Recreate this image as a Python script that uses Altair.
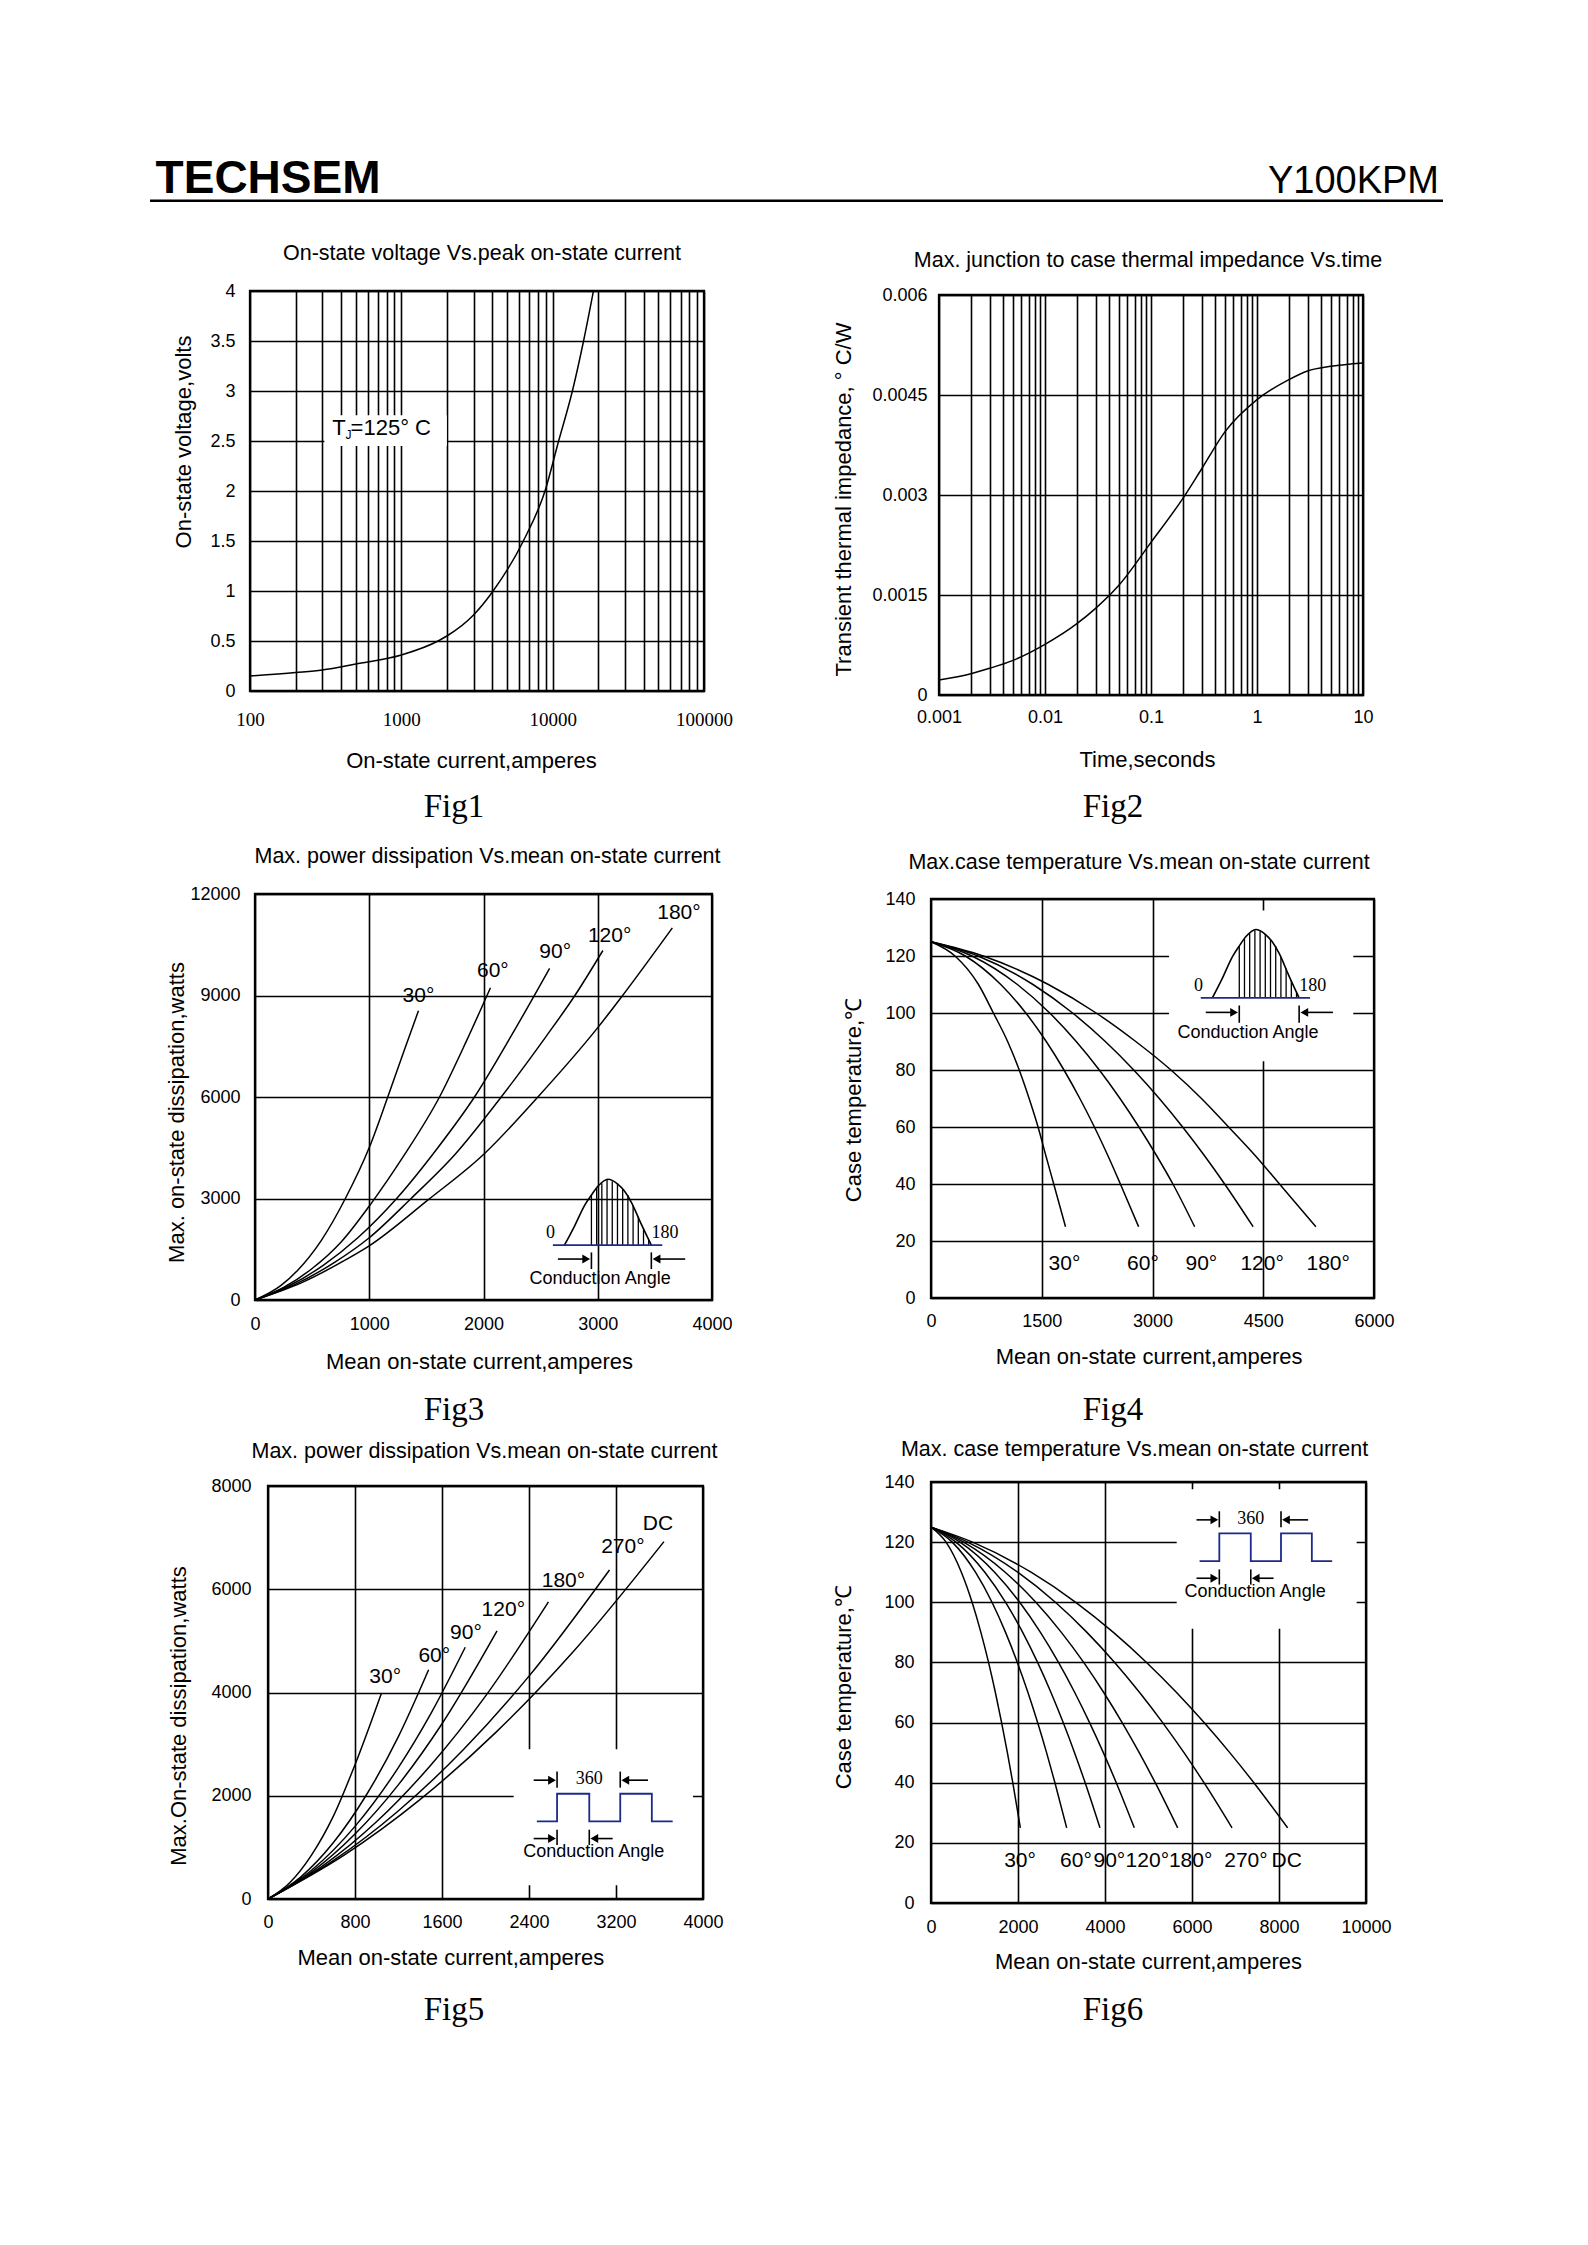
import json
import altair as alt
import pandas as pd

SANS = "Liberation Sans, Arial, Helvetica, sans-serif"
SERIF = "Liberation Serif, Times New Roman, serif"
BLUE = "#1c2a8c"

# ---------------- header
brand = "TECHSEM"
part_no = "Y100KPM"

# ---------------- Fig1: on-state voltage vs peak current
f1_title = "On-state voltage Vs.peak on-state current"
f1_xtitle = "On-state current,amperes"
f1_ytitle = "On-state voltage,volts"
f1_current = [100, 200, 300, 500, 1000, 1800, 2000, 3000, 4040, 6400, 8900, 10950, 13500, 16000, 18600]
f1_voltage = [0.15, 0.185, 0.21, 0.27, 0.36, 0.51, 0.55, 0.76, 1.0, 1.5, 2.0, 2.5, 3.0, 3.5, 4.0]
f1_xgrid = [m * 10 ** e for e in (2, 3, 4) for m in range(1, 10)] + [100000]
f1_xlabels = [100, 1000, 10000, 100000]
f1_ygrid = [0, 0.5, 1, 1.5, 2, 2.5, 3, 3.5, 4]
f1_box_x = [310, 2000]
f1_box_y = [2.45, 2.757]

# ---------------- Fig2: transient thermal impedance vs time
f2_title = "Max. junction to case thermal impedance Vs.time"
f2_xtitle = "Time,seconds"
f2_ytitle = "Transient thermal impedance, \u00b0 C/W"
f2_time = [0.001, 0.002, 0.003, 0.005, 0.01, 0.02, 0.03, 0.05, 0.1, 0.2, 0.3, 0.5, 1, 2, 3, 5, 10]
f2_z = [0.000225, 0.00032, 0.0004, 0.00052, 0.00076, 0.00107, 0.0013, 0.00165, 0.00229,
        0.00295, 0.00339, 0.00395, 0.00443, 0.00473, 0.00486, 0.00493, 0.00498]
f2_xgrid = [round(m * 10.0 ** e, 6) for e in (-3, -2, -1, 0) for m in range(1, 10)] + [10]
f2_xlabels = [0.001, 0.01, 0.1, 1, 10]
f2_ygrid = [0, 0.0015, 0.003, 0.0045, 0.006]

# ---------------- Fig3: power dissipation (sine) vs mean current
f3_title = "Max. power dissipation Vs.mean on-state current"
f3_xtitle = "Mean on-state current,amperes"
f3_ytitle = "Max. on-state dissipation,watts"
f3_current = {
    "30\u00b0": [0, 228, 374, 578, 791, 1000, 1162, 1308, 1431],
    "60\u00b0": [0, 250, 500, 750, 1016, 1300, 1615, 1850, 2061],
    "90\u00b0": [0, 300, 600, 900, 1240, 1600, 1921, 2250, 2578],
    "120\u00b0": [0, 350, 700, 1000, 1366, 1750, 2155, 2550, 2800, 3045],
    "180\u00b0": [0, 400, 800, 1000, 1512, 2000, 2476, 3000, 3206, 3653],
}
f3_power = {
    "30\u00b0": [0, 430, 880, 1750, 3000, 4505, 6000, 7400, 8550],
    "60\u00b0": [0, 370, 930, 1700, 2850, 4250, 6000, 7650, 9230],
    "90\u00b0": [0, 420, 1030, 1840, 3000, 4500, 6000, 7850, 9800],
    "120\u00b0": [0, 460, 1120, 1840, 3000, 4300, 6000, 7800, 9000, 10330],
    "180\u00b0": [0, 500, 1200, 1600, 2950, 4300, 6000, 8050, 8950, 11000],
}
f3_label_text = ["30\u00b0", "60\u00b0", "90\u00b0", "120\u00b0", "180\u00b0"]
f3_label_x = [1431, 2082, 2628, 3104, 3711]
f3_label_y = [9000, 9737, 10288, 10770, 11439]
f3_xgrid = [0, 1000, 2000, 3000, 4000]
f3_ygrid = [0, 3000, 6000, 9000, 12000]

# ---------------- Fig4: case temperature (sine) vs mean current
f4_title = "Max.case temperature Vs.mean on-state current"
f4_xtitle = "Mean on-state current,amperes"
f4_ytitle = "Case temperature,\u2103"
f4_temp = [125, 120, 110, 100, 90, 80, 70, 60, 50, 40, 25]
f4_current = {
    "30\u00b0": [0, 325, 643, 845, 1038, 1195, 1329, 1450, 1555, 1662, 1822],
    "60\u00b0": [0, 465, 945, 1284, 1561, 1801, 2016, 2213, 2395, 2565, 2812],
    "90\u00b0": [0, 555, 1170, 1608, 1967, 2280, 2560, 2816, 3054, 3276, 3571],
    "120\u00b0": [0, 637, 1381, 1918, 2361, 2746, 3092, 3408, 3702, 3977, 4363],
    "180\u00b0": [0, 708, 1590, 2237, 2773, 3250, 3663, 4030, 4390, 4720, 5213],
}
f4_label_text = ["30\u00b0", "60\u00b0", "90\u00b0", "120\u00b0", "180\u00b0"]
f4_label_x = [1808, 2871, 3662, 4485, 5380]
f4_label_y = [11.9] * 5
f4_box_x = [3223, 5719]
f4_box_y = [83.1, 136.0]
f4_xgrid = [0, 1500, 3000, 4500, 6000]
f4_ygrid = [0, 20, 40, 60, 80, 100, 120, 140]

# ---------------- Fig5: power dissipation (square) vs mean current
f5_title = "Max. power dissipation Vs.mean on-state current"
f5_xtitle = "Mean on-state current,amperes"
f5_ytitle = "Max.On-state dissipation,watts"
f5_current = {
    "30\u00b0": [0, 200, 400, 600, 800, 1044],
    "60\u00b0": [0, 300, 600, 900, 1200, 1477],
    "90\u00b0": [0, 400, 800, 1200, 1500, 1814],
    "120\u00b0": [0, 400, 800, 1200, 1600, 2106],
    "180\u00b0": [0, 500, 1000, 1500, 2000, 2579],
    "270\u00b0": [0, 600, 1200, 1800, 2400, 3140],
    "DC": [0, 700, 1400, 2100, 2800, 3641],
}
f5_power = {
    "30\u00b0": [0, 315, 850, 1600, 2600, 3990],
    "60\u00b0": [0, 425, 1090, 2000, 3150, 4440],
    "90\u00b0": [0, 557, 1407, 2550, 3600, 4877],
    "120\u00b0": [0, 520, 1258, 2216, 3394, 5194],
    "180\u00b0": [0, 635, 1500, 2600, 3930, 5755],
    "270\u00b0": [0, 742, 1710, 2900, 4317, 6374],
    "DC": [0, 850, 1930, 3237, 4775, 6923],
}
f5_label_text = ["30\u00b0", "60\u00b0", "90\u00b0", "120\u00b0", "180\u00b0", "270\u00b0", "DC"]
f5_label_x = [1078, 1529, 1820, 2164, 2717, 3263, 3586]
f5_label_y = [4297, 4710, 5148, 5600, 6168, 6813, 7265]
f5_box_x = [2259, 3908]
f5_box_y = [265, 2903]
f5_xgrid = [0, 800, 1600, 2400, 3200, 4000]
f5_ygrid = [0, 2000, 4000, 6000, 8000]

# ---------------- Fig6: case temperature (square) vs mean current
f6_title = "Max. case temperature Vs.mean on-state current"
f6_xtitle = "Mean on-state current,amperes"
f6_ytitle = "Case temperature,\u2103"
f6_temp = [125, 120, 110, 100, 90, 80, 70, 60, 50, 40, 25]
f6_current = {
    "30\u00b0": [0, 346, 698, 945, 1147, 1323, 1480, 1623, 1756, 1880, 2054],
    "60\u00b0": [0, 488, 1022, 1402, 1714, 1985, 2229, 2451, 2657, 2849, 3119],
    "90\u00b0": [0, 574, 1237, 1715, 2108, 2450, 2758, 3039, 3300, 3544, 3885],
    "120\u00b0": [0, 667, 1462, 2039, 2516, 2931, 3304, 3645, 3962, 4259, 4674],
    "180\u00b0": [0, 750, 1705, 2410, 2997, 3510, 3971, 4394, 4787, 5155, 5670],
    "270\u00b0": [0, 845, 1993, 2859, 3585, 4222, 4796, 5325, 5816, 6276, 6920],
    "DC": [0, 956, 2299, 3327, 4193, 4955, 5645, 6278, 6868, 7422, 8199],
}
f6_label_text = ["30\u00b0", "60\u00b0", "90\u00b0", "120\u00b0", "180\u00b0", "270\u00b0", "DC"]
f6_label_x = [2046, 3333, 4100, 4973, 5969, 7241, 8176]
f6_label_y = [13.9] * 7
f6_box_x = [5648, 9785]
f6_box_y = [91.2, 137.6]
f6_xgrid = [0, 2000, 4000, 6000, 8000, 10000]
f6_ygrid = [0, 20, 40, 60, 80, 100, 120, 140]

# ---------------- half-sine inset (u across one pulse, v up to the crest)
pulse_u = [0, 0.12, 0.23, 0.31, 0.39, 0.5, 0.61, 0.69, 0.77, 0.88, 1.0]
pulse_v = [0, 0.30, 0.60, 0.76, 0.90, 1.0, 0.93, 0.82, 0.65, 0.33, 0]
hatch_u = [0.31, 0.37, 0.43, 0.49, 0.55, 0.61, 0.67, 0.73, 0.79, 0.85, 0.91, 0.97]
hatch_v = [0.76, 0.86, 0.94, 0.99, 0.97, 0.93, 0.85, 0.76, 0.60, 0.43, 0.25, 0.08]
pulse_base_u = [-0.134, 1.126]
pulse_bar_u = [0.31, 1.0]
pulse_bar_v = [-0.364, -0.111]
pulse_arrow_v = -0.212
pulse_arrow_tail = [-0.076, 1.39]
pulse_arrow_tip = [0.25, 1.06]
pulse_nums = ["0", "180"]
pulse_num_u = [-0.16, 1.157]
pulse_num_v = 0.177
pulse_cap = (0.41, -0.515)

# ---------------- square-wave inset (u: one period = 1, v: pulse height = 1)
wave_u = [-0.32, 0, 0, 0.51, 0.51, 1.0, 1.0, 1.50, 1.50, 1.83]
wave_v = [0, 0, 1, 1, 0, 0, 1, 1, 0, 0]
wave_top_bar_u = [0, 1.0]
wave_top_bar_v = [1.22, 1.80]
wave_top_arrow_v = 1.49
wave_top_tail = [-0.37, 1.44]
wave_top_tip = [-0.08, 1.08]
wave_bot_bar_u = [0, 0.51]
wave_bot_bar_v = [-0.85, -0.30]
wave_bot_arrow_v = -0.62
wave_bot_tail = [-0.37, 0.88]
wave_bot_tip = [-0.08, 0.59]
wave_period_text = "360"
wave_period_uv = (0.51, 1.52)
wave_cap = (0.58, -1.1)

CAPTION = "Conduction Angle"

TITLE_SIZE = 21.5
AXIS_TITLE_SIZE = 22


# ================= helpers =================
def curves_df(xs, ys):
    rows = []
    for k in xs:
        for a, b in zip(xs[k], ys[k]):
            rows.append({"k": k, "x": a, "y": b})
    return pd.DataFrame(rows)


def make_xy(xs, ys, xa, ya):
    def X():
        return alt.X("x:Q", scale=xs, axis=xa)

    def Y():
        return alt.Y("y:Q", scale=ys, axis=ya)
    return X, Y


def x_axis(values, title, tx, ty, pad, fmt, label_values=None, font=SANS, size=18):
    kw = dict(values=values, title=title, titleX=tx, titleY=ty, labelPadding=pad,
              format=fmt, labelFont=font, labelFontSize=size, labelBaseline="middle")
    if label_values is not None:
        kw["labelExpr"] = "indexof(%s, datum.value) >= 0 ? datum.label : ''" % json.dumps(label_values)
    return alt.Axis(**kw)


def y_axis(values, title, tx, ty, pad, fmt):
    return alt.Axis(values=values, title=title, titleX=tx, titleY=ty, labelPadding=pad,
                    format=fmt, titleAngle=270, labelAlign="right")


def curve_layer(X, Y, df, width=1.5):
    return alt.Chart(df).mark_line(color="black", strokeWidth=width, interpolate="monotone").encode(
        x=X(), y=Y(), detail="k:N")


def text_layer(X, Y, xs, ys, texts, size=21, font=SANS, align="center"):
    df = pd.DataFrame({"x": xs, "y": ys, "t": texts})
    return alt.Chart(df).mark_text(font=font, fontSize=size, color="black", align=align,
                                   baseline="middle").encode(x=X(), y=Y(), text="t:N")


def white_box(X, Y, bx, by):
    df = pd.DataFrame({"x": [bx[0]], "x2": [bx[1]], "y": [by[0]], "y2": [by[1]]})
    return alt.Chart(df).mark_rect(color="white", opacity=1).encode(x=X(), x2="x2:Q", y=Y(), y2="y2:Q")


def hrules(X, Y, x1, x2, y, color="black", width=1.6):
    df = pd.DataFrame({"x": x1, "x2": x2, "y": y})
    return alt.Chart(df).mark_rule(color=color, strokeWidth=width).encode(x=X(), x2="x2:Q", y=Y())


def vrules(X, Y, x, y1, y2, color="black", width=1.6):
    df = pd.DataFrame({"x": x, "y": y1, "y2": y2})
    return alt.Chart(df).mark_rule(color=color, strokeWidth=width).encode(x=X(), y=Y(), y2="y2:Q")


def heads(X, Y, xs, ys, shape):
    df = pd.DataFrame({"x": xs, "y": ys})
    return alt.Chart(df).mark_point(shape=shape, filled=True, color="black", opacity=1, size=80).encode(
        x=X(), y=Y())


def pulse_inset(X, Y, fr):
    x0, sx, y0, sy = fr
    U = lambda u: x0 + u * sx
    V = lambda v: y0 + v * sy
    shape = pd.DataFrame({"x": [U(u) for u in pulse_u], "y": [V(v) for v in pulse_v]})
    return [
        vrules(X, Y, [U(u) for u in hatch_u], [V(0)] * len(hatch_u), [V(v) for v in hatch_v], width=1.3),
        alt.Chart(shape).mark_line(color="black", strokeWidth=1.6, interpolate="monotone").encode(x=X(), y=Y()),
        hrules(X, Y, [U(pulse_base_u[0])], [U(pulse_base_u[1])], [V(0)], color=BLUE, width=1.8),
        vrules(X, Y, [U(u) for u in pulse_bar_u], [V(pulse_bar_v[0])] * 2, [V(pulse_bar_v[1])] * 2),
        hrules(X, Y, [U(u) for u in pulse_arrow_tail], [U(u) for u in pulse_arrow_tip], [V(pulse_arrow_v)] * 2),
        heads(X, Y, [U(pulse_arrow_tip[0])], [V(pulse_arrow_v)], "triangle-right"),
        heads(X, Y, [U(pulse_arrow_tip[1])], [V(pulse_arrow_v)], "triangle-left"),
        text_layer(X, Y, [U(u) for u in pulse_num_u], [V(pulse_num_v)] * 2, pulse_nums, size=18, font=SERIF),
        text_layer(X, Y, [U(pulse_cap[0])], [V(pulse_cap[1])], [CAPTION], size=18),
    ]


def wave_inset(X, Y, fr):
    x0, sx, y0, sy = fr
    U = lambda u: x0 + u * sx
    V = lambda v: y0 + v * sy
    wave = pd.DataFrame({"x": [U(u) for u in wave_u], "y": [V(v) for v in wave_v],
                         "i": list(range(len(wave_u)))})
    return [
        alt.Chart(wave).mark_line(color=BLUE, strokeWidth=1.8).encode(x=X(), y=Y(), order="i:Q"),
        vrules(X, Y, [U(u) for u in wave_top_bar_u], [V(wave_top_bar_v[0])] * 2, [V(wave_top_bar_v[1])] * 2),
        vrules(X, Y, [U(u) for u in wave_bot_bar_u], [V(wave_bot_bar_v[0])] * 2, [V(wave_bot_bar_v[1])] * 2),
        hrules(X, Y, [U(u) for u in wave_top_tail], [U(u) for u in wave_top_tip], [V(wave_top_arrow_v)] * 2),
        hrules(X, Y, [U(u) for u in wave_bot_tail], [U(u) for u in wave_bot_tip], [V(wave_bot_arrow_v)] * 2),
        heads(X, Y, [U(wave_top_tip[0]), U(wave_bot_tip[0])], [V(wave_top_arrow_v), V(wave_bot_arrow_v)],
              "triangle-right"),
        heads(X, Y, [U(wave_top_tip[1]), U(wave_bot_tip[1])], [V(wave_top_arrow_v), V(wave_bot_arrow_v)],
              "triangle-left"),
        text_layer(X, Y, [U(wave_period_uv[0])], [V(wave_period_uv[1])], [wave_period_text], size=18, font=SERIF),
        text_layer(X, Y, [U(wave_cap[0])], [V(wave_cap[1])], [CAPTION], size=18),
    ]


def panel(layers, w, h, title, offset, dx, cap, cap_x, cap_y):
    cap_layer = alt.Chart(pd.DataFrame({"t": [cap]})).mark_text(
        font=SERIF, fontSize=33, align="center", baseline="middle", color="black").encode(
        text="t:N", x=alt.value(cap_x), y=alt.value(cap_y))
    return alt.layer(*layers, cap_layer).properties(
        width=w, height=h,
        title=alt.TitleParams(title, offset=offset, dx=dx, frame="group", anchor="middle",
                              baseline="middle", fontSize=TITLE_SIZE, fontWeight="normal", font=SANS,
                              color="black"),
        view=alt.ViewBackground(stroke="black", strokeWidth=2.3),
    )


def spacer(w=1, h=1):
    return alt.Chart(pd.DataFrame({"a": [0]})).mark_point(opacity=0).properties(width=w, height=h)


TITLE_SHIFT = 29  # measured shift of the title anchor in this renderer

# ================= Fig1 =================
X, Y = make_xy(alt.Scale(type="log", domain=[100, 100000], nice=False),
               alt.Scale(domain=[0, 4], nice=False, zero=False),
               x_axis(f1_xgrid, f1_xtitle, 221, 69, 28, "~g", f1_xlabels, font=SERIF, size=19),
               y_axis(f1_ygrid, f1_ytitle, -66.6, 150.5, 15, "~g"))
fig1 = panel([
    white_box(X, Y, f1_box_x, f1_box_y),
    alt.Chart(pd.DataFrame({"x": f1_current, "y": f1_voltage})).mark_line(
        color="black", strokeWidth=1.5, interpolate="monotone").encode(x=X(), y=Y()),
    text_layer(X, Y, [350], [2.633], ["T"], size=22, align="left"),
    text_layer(X, Y, [428], [2.56], ["J"], size=12, align="left"),
    text_layer(X, Y, [462], [2.633], ["=125\u00b0   C"], size=22, align="left"),
], 454, 400, f1_title, 36 - TITLE_SHIFT, 5, "Fig1", 204, 516)

# ================= Fig2 =================
X, Y = make_xy(alt.Scale(type="log", domain=[0.001, 10], nice=False),
               alt.Scale(domain=[0, 0.006], nice=False, zero=False),
               x_axis(f2_xgrid, f2_xtitle, 208, 64, 22, "~g", f2_xlabels),
               y_axis(f2_ygrid, f2_ytitle, -96, 204, 12, ".2~g"))
fig2 = panel([
    alt.Chart(pd.DataFrame({"x": f2_time, "y": f2_z})).mark_line(
        color="black", strokeWidth=1.5, interpolate="monotone").encode(x=X(), y=Y()),
], 424, 400, f2_title, 33 - TITLE_SHIFT, -3, "Fig2", 174, 512)

# ================= Fig3 =================
X, Y = make_xy(alt.Scale(domain=[0, 4000], nice=False, zero=False),
               alt.Scale(domain=[0, 12000], nice=False, zero=False),
               x_axis(f3_xgrid, f3_xtitle, 224, 61, 24, "d"),
               y_axis(f3_ygrid, f3_ytitle, -78.7, 218, 15, "d"))
fig3 = panel([
    curve_layer(X, Y, curves_df(f3_current, f3_power)),
    text_layer(X, Y, f3_label_x, f3_label_y, f3_label_text),
] + pulse_inset(X, Y, (2709, 760, 1623, 1947)), 457, 406, f3_title, 36 - TITLE_SHIFT, 4, "Fig3", 199, 516)

# ================= Fig4 =================
X, Y = make_xy(alt.Scale(domain=[0, 6000], nice=False, zero=False),
               alt.Scale(domain=[0, 140], nice=False, zero=False),
               x_axis(f4_xgrid, f4_xtitle, 217.6, 58, 23, "d"),
               y_axis(f4_ygrid, f4_ytitle, -78, 200.6, 16, "d"))
fig4 = panel([
    white_box(X, Y, f4_box_x, f4_box_y),
    curve_layer(X, Y, curves_df(f4_current, {k: f4_temp for k in f4_current})),
    text_layer(X, Y, f4_label_x, f4_label_y, f4_label_text),
] + pulse_inset(X, Y, (3811, 1175, 105.3, 24.0)), 443, 399, f4_title, 35 - TITLE_SHIFT, -13.5, "Fig4", 182, 511)

# ================= Fig5 =================
X, Y = make_xy(alt.Scale(domain=[0, 4000], nice=False, zero=False),
               alt.Scale(domain=[0, 8000], nice=False, zero=False),
               x_axis(f5_xgrid, f5_xtitle, 182.4, 58, 23, "d"),
               y_axis(f5_ygrid, f5_ytitle, -90, 229.5, 17, "d"))
fig5 = panel([
    white_box(X, Y, f5_box_x, f5_box_y),
    curve_layer(X, Y, curves_df(f5_current, f5_power)),
    text_layer(X, Y, f5_label_x, f5_label_y, f5_label_text),
] + wave_inset(X, Y, (2658, 581, 1503, 536)), 435, 413, f5_title, 33 - TITLE_SHIFT, -1, "Fig5", 186, 524)

# ================= Fig6 =================
X, Y = make_xy(alt.Scale(domain=[0, 10000], nice=False, zero=False),
               alt.Scale(domain=[0, 140], nice=False, zero=False),
               x_axis(f6_xgrid, f6_xtitle, 217, 58, 24, "d"),
               y_axis(f6_ygrid, f6_ytitle, -87.6, 204.7, 17, "d"))
fig6 = panel([
    white_box(X, Y, f6_box_x, f6_box_y),
    curve_layer(X, Y, curves_df(f6_current, {k: f6_temp for k in f6_current})),
    text_layer(X, Y, f6_label_x, f6_label_y, f6_label_text),
] + wave_inset(X, Y, (6628, 1418, 113.7, 9.2)), 435, 421, f6_title, 31 - TITLE_SHIFT, -14, "Fig6", 182, 528)

# ================= header =================
h_brand = alt.Chart(pd.DataFrame({"t": [brand]})).mark_text(
    font=SANS, fontSize=46, fontWeight="bold", align="left", baseline="alphabetic", color="black").encode(
    text="t:N", x=alt.value(144.6), y=alt.value(183.7))
h_part = alt.Chart(pd.DataFrame({"t": [part_no]})).mark_text(
    font=SANS, fontSize=38, align="right", baseline="alphabetic", color="black").encode(
    text="t:N", x=alt.value(1428), y=alt.value(183.7))
h_rule = alt.Chart(pd.DataFrame({"a": [0]})).mark_rule(color="black", strokeWidth=2.5).encode(
    x=alt.value(139), x2=alt.value(1432), y=alt.value(191.7))
header = alt.layer(h_brand, h_part, h_rule).properties(width=1432, height=282)

# ================= layout =================
# With flush bounds a nested concat counts as zero size, so the spacers alone fix every offset.
row1 = alt.hconcat(spacer(239, 1), fig1, spacer(235, 1),
                   alt.vconcat(spacer(1, 4), fig2, spacing=0, bounds="flush"),
                   spacing=0, bounds="flush")
row2 = alt.hconcat(spacer(244, 1), fig3, spacer(219, 1),
                   alt.vconcat(spacer(1, 5), fig4, spacing=0, bounds="flush"),
                   spacing=0, bounds="flush")
row3 = alt.hconcat(spacer(257, 1),
                   alt.vconcat(spacer(1, 4), fig5, spacing=0, bounds="flush"),
                   spacer(663, 1), fig6,
                   spacing=0, bounds="flush")

chart = alt.vconcat(header, row1, spacer(1, 603), row2, spacer(1, 588), row3,
                    spacing=0, bounds="flush").properties(padding=0).configure(
    font=SANS).configure_view(stroke="transparent").configure_axis(
    domain=False, ticks=False, tickSize=0, grid=True, gridColor="black", gridWidth=1.6, gridOpacity=1,
    labelFontSize=18, labelColor="black", labelFont=SANS, labelFlush=False, labelOverlap=False,
    titleFont=SANS, titleFontSize=AXIS_TITLE_SIZE, titleFontWeight="normal", titleColor="black",
    titleAlign="center", titleBaseline="middle")

chart.save("out.html", embed_options={"renderer": "svg", "actions": False})
